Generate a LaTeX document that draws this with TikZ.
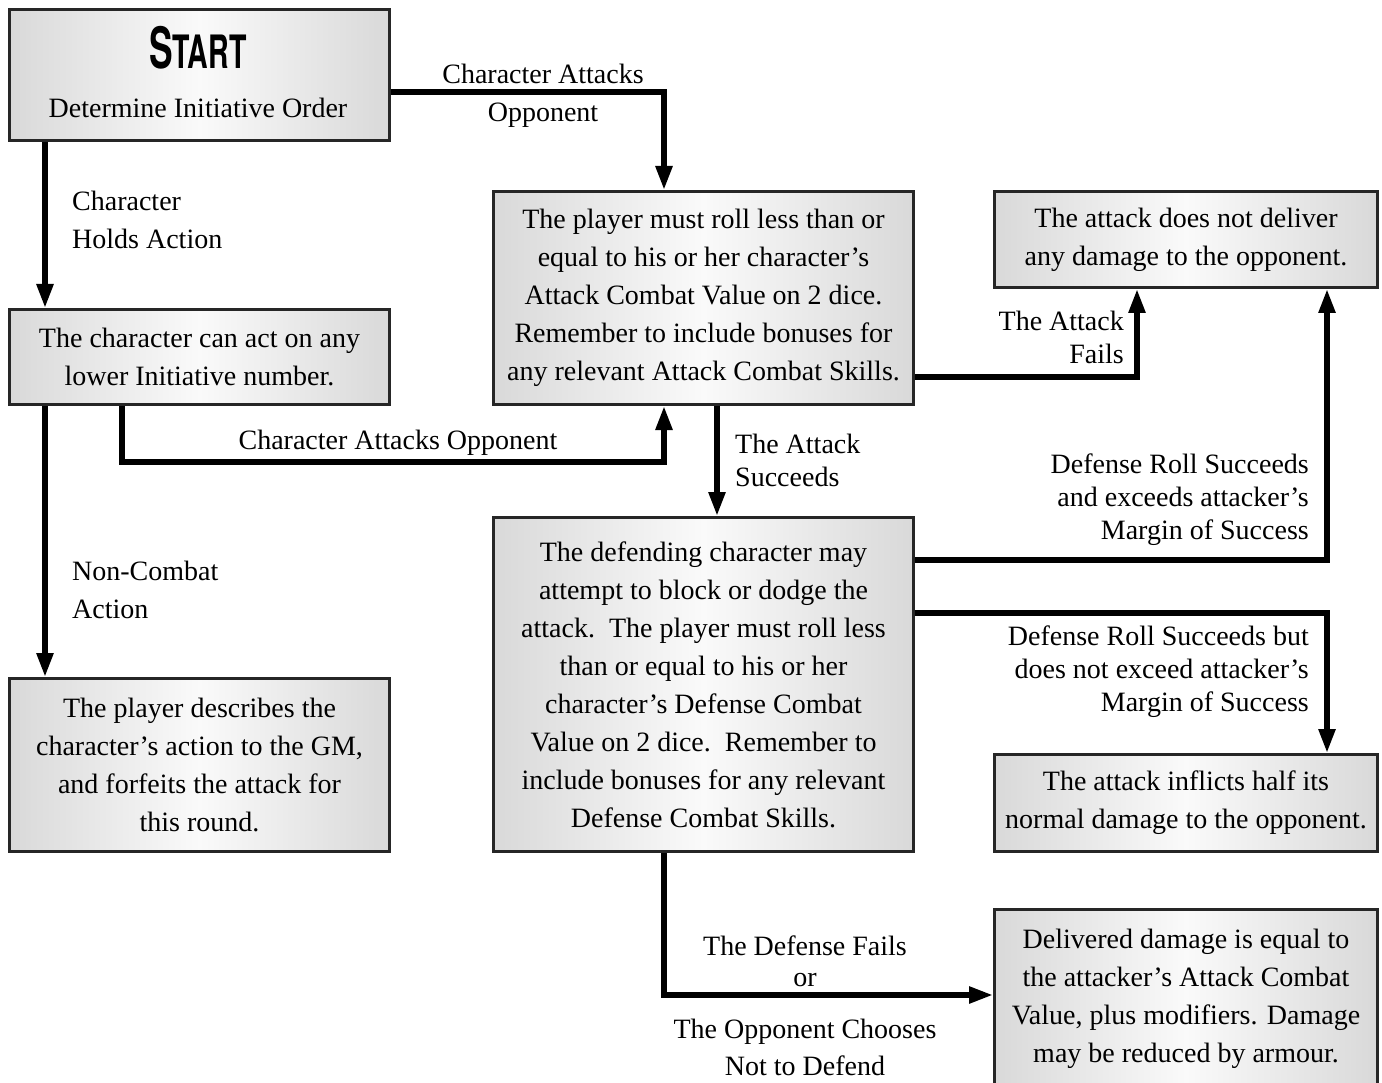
\documentclass[tikz,border=0pt]{standalone}
\usepackage{fontspec}
\setmainfont{Liberation Serif}
\newfontfamily\titlefont{TeX Gyre Heros}[BoldFont={* Bold}]
\usetikzlibrary{arrows.meta,calc}
\tikzset{
  box/.style={draw=black!85, line width=3pt, left color=black!15, right color=black!15, middle color=black!2,
    anchor=north west, align=center, inner sep=0pt, font=\fontsize{28}{38}\selectfont},
  lbl/.style={align=center, inner sep=0pt, font=\fontsize{28}{33}\selectfont},
  widelbl/.style={lbl, font=\fontsize{28}{38}\selectfont},
  arr/.style={line width=5.5pt, draw=black, -{Triangle[length=24pt,width=16pt]}},
}
\begin{document}
\begin{tikzpicture}[x=1pt,y=-1pt]
\useasboundingbox (0,0) rectangle (1382,1083);
% boxes
\node[box, minimum width=380pt, minimum height=131pt] (start) at (8,8) {};
\node[inner sep=0pt, font=\titlefont\bfseries] (starttitle) at (198,48)
  {\scalebox{0.62}[1]{\fontsize{57}{57}\selectfont S\fontsize{46}{46}\selectfont TART}};
\node[inner sep=0pt, font=\fontsize{28}{38}\selectfont] (startsub) at (198,108) {Determine Initiative Order};
\node[box, minimum width=380pt, minimum height=95pt] (hold) at (8,308)
  {The character can act on any\\lower Initiative number.};
\node[box, minimum width=380pt, minimum height=173pt] (noncombat) at (8,677)
  {The player describes the\\character’s action to the GM,\\and forfeits the attack for\\this round.};
\node[box, minimum width=420pt, minimum height=213pt] (attack) at (492,190)
  {The player must roll less than or\\equal to his or her character’s\\Attack Combat Value on 2 dice.\\Remember to include bonuses for\\any relevant Attack Combat Skills.};
\node[box, minimum width=383pt, minimum height=96pt] (nodamage) at (993,190)
  {The attack does not deliver\\any damage to the opponent.};
\node[box, minimum width=420pt, minimum height=334pt] (defend) at (492,516)
  {The defending character may\\attempt to block or dodge the\\attack.\ \ The player must roll less\\than or equal to his or her\\character’s Defense Combat\\Value on 2 dice.\ \ Remember to\\include bonuses for any relevant\\Defense Combat Skills.};
\node[box, minimum width=383pt, minimum height=97pt] (half) at (993,753)
  {The attack inflicts half its\\normal damage to the opponent.};
\node[box, minimum width=383pt, minimum height=178pt] (full) at (993,908)
  {Delivered damage is equal to\\the attacker’s Attack Combat\\Value, plus modifiers. Damage\\may be reduced by armour.};
% connectors
\draw[arr] (start.east |- 0,92) -| (attack.north -| 664,0);
\draw[arr] (start.south -| 45,0) -- (hold.north -| 45,0);
\draw[arr] (hold.south -| 122,0) |- (400,462) -| (attack.south -| 664,0);
\draw[arr] (hold.south -| 45,0) -- (noncombat.north -| 45,0);
\draw[arr] (attack.east |- 0,377) -| (nodamage.south -| 1137,0);
\draw[arr] (attack.south -| 717,0) -- (defend.north -| 717,0);
\draw[arr] (defend.east |- 0,560) -| (nodamage.south -| 1327,0);
\draw[arr] (defend.east |- 0,613) -| (half.north -| 1327,0);
\draw[arr] (defend.south -| 664,0) |- (full.west |- 0,995);
% labels
\node[widelbl] (l1) at (543,96) {Character Attacks\\Opponent};
\node[widelbl, anchor=west, align=left] (l2) at (72,220) {Character\\Holds Action};
\node[lbl] (l3) at (398,443) {Character Attacks Opponent};
\node[widelbl, anchor=west, align=left] (l4) at (72,590) {Non-Combat\\Action};
\node[lbl, anchor=east, align=right] (l5) at (1124,337) {The Attack\\Fails};
\node[lbl, anchor=west, align=left] (l6) at (735,460) {The Attack\\Succeeds};
\node[lbl, anchor=east, align=right] (l7) at (1309,500) {Defense Roll Succeeds\\and exceeds attacker’s\\Margin of Success};
\node[lbl, anchor=east, align=right] (l8) at (1309,672) {Defense Roll Succeeds but\\does not exceed attacker’s\\Margin of Success};
\node[lbl, font=\fontsize{28}{31}\selectfont] (l9) at (805,961) {The Defense Fails\\or};
\node[lbl, font=\fontsize{28}{37}\selectfont] (l10) at (805,1047) {The Opponent Chooses\\Not to Defend};
\end{tikzpicture}
\end{document}
